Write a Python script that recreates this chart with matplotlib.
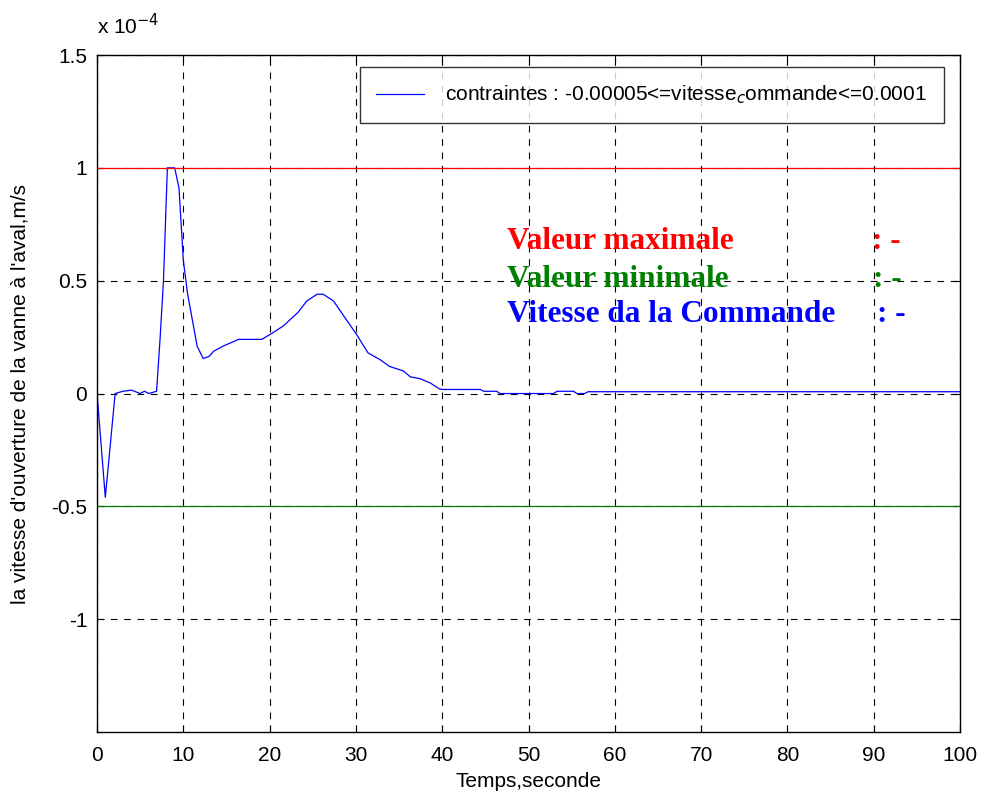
import matplotlib.pyplot as plt
import numpy as np

plt.rcParams['font.family'] = ['Liberation Sans', 'DejaVu Sans']

# temps (s) et vitesse de commande (unites de 1e-4 m/s)
temps = [0, 0.96, 2.1, 3.0, 4.0, 5.0, 5.5, 6.0, 6.9, 7.3, 7.7, 8.15, 9.0, 9.5,
         10.0, 10.5, 11.6, 12.3, 13.0, 13.5, 14.6, 16.4, 19.1, 20.4, 21.6,
         23.3, 24.3, 25.5, 26.2, 27.4, 30.1, 31.4, 32.8, 33.9, 35.5, 36.3,
         37.4, 38.6, 39.7, 40.1, 44.4, 44.8, 46.3, 46.7, 52.9, 53.3, 55.2,
         55.6, 56.5, 56.9, 100]
vitesse = [0, -0.46, 0.0, 0.01, 0.015, 0.0, 0.01, 0.0, 0.01, 0.24, 0.5, 1.0,
           1.0, 0.91, 0.59, 0.44, 0.21, 0.155, 0.165, 0.187, 0.21, 0.24, 0.24,
           0.27, 0.30, 0.36, 0.41, 0.44, 0.44, 0.41, 0.26, 0.18, 0.15, 0.12,
           0.10, 0.074, 0.066, 0.047, 0.02, 0.018, 0.018, 0.01, 0.01, 0.0, 0.0,
           0.01, 0.01, 0.0, 0.0, 0.008, 0.008]
v_max = 1.0
v_min = -0.5

x_ticks = [0, 10, 20, 30, 40, 50, 60, 70, 80, 90, 100]
y_ticks = [-1, -0.5, 0, 0.5, 1, 1.5]

fig = plt.figure(figsize=(9.83, 8.01), dpi=100)
ax = fig.add_axes([0.0987, 0.0861, 0.878, 0.8452])

ax.plot(temps, vitesse, color='blue', lw=0.9,
        label='contraintes : -0.00005<=vitesse$_c$ommande<=0.0001')
ax.axhline(v_max, color='red', lw=0.9)
ax.axhline(v_min, color='green', lw=0.9)

ax.set_xlim(0, 100)
ax.set_ylim(-1.5, 1.5)
ax.set_xticks(x_ticks)
ax.set_yticks(y_ticks)
ax.set_yticklabels(['-1', '-0.5', '0', '0.5', '1', '1.5'])
ax.tick_params(direction='in', labelsize=15, length=5, top=True, right=True,
               pad=7)
ax.tick_params(axis='x', pad=10)
ax.grid(True, color='black', linestyle=(0, (6, 6)), lw=0.8)
for s in ax.spines.values():
    s.set_linewidth(1.0)

ax.set_xlabel('Temps,seconde', fontsize=15, labelpad=5)
ax.set_ylabel("la vitesse d'ouverture de la vanne à l'aval,m/s", fontsize=15,
              labelpad=16)
ax.text(0, 1.025, 'x 10$^{-4}$', transform=ax.transAxes, fontsize=15,
        va='bottom')

leg = ax.legend(loc='upper right', bbox_to_anchor=(0.981, 0.982), fontsize=15,
                frameon=True, fancybox=False, handlelength=2.3, borderpad=0.8,
                handletextpad=1.0, borderaxespad=0)
leg.get_frame().set_edgecolor('black')
leg.get_frame().set_linewidth(1.0)

serif = ['Liberation Serif', 'DejaVu Serif']
ax.text(47.5, 0.672, 'Valeur maximale', color='red', fontsize=22.5,
        fontweight='bold', family=serif, va='center')
ax.text(89.8, 0.672, ': -', color='red', fontsize=22.5,
        fontweight='bold', family=serif, va='center')
ax.text(47.5, 0.505, 'Valeur minimale', color='green', fontsize=22.5,
        fontweight='bold', family=serif, va='center')
ax.text(89.9, 0.505, ': -', color='green', fontsize=22.5,
        fontweight='bold', family=serif, va='center')
ax.text(47.5, 0.348, 'Vitesse da la Commande', color='blue', fontsize=22.5,
        fontweight='bold', family=serif, va='center')
ax.text(90.4, 0.348, ': -', color='blue', fontsize=22.5,
        fontweight='bold', family=serif, va='center')

fig.savefig('out.png', dpi=100)
